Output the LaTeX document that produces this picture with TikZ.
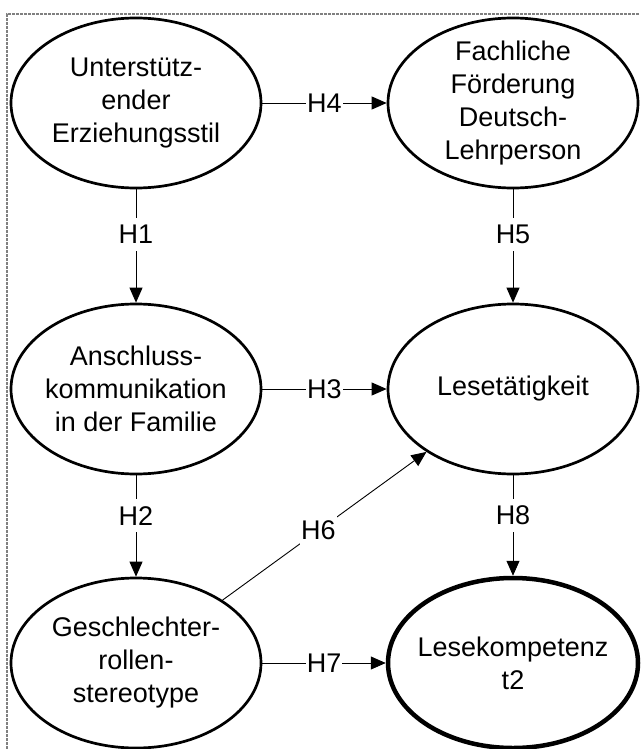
\documentclass[tikz,border=0pt]{standalone}
\usepackage{fontspec}
\setmainfont{Liberation Sans}
\usetikzlibrary{shapes.geometric,arrows.meta}
\newcommand{\hfont}{\fontsize{27pt}{33pt}\selectfont}
\tikzset{
	var/.style 2 args={ellipse,draw,line width=2.7pt,minimum width=250pt,minimum height=170pt,inner sep=0pt,label={[vtext]center:{#2}},name=#1},
	vtext/.style={align=center,font=\hfont,inner sep=0pt},
	hyp/.style={line width=0.9pt,-{Triangle[length=15pt,width=13pt]}},
	hlab/.style={fill=white,font=\hfont,inner xsep=1pt,inner ysep=7pt},
	frame/.style={gray,line width=1.2pt,dash pattern=on 3pt off 1pt}
}

\begin{document}
\begin{tikzpicture}[x=1pt,y=-1pt]
	\useasboundingbox (0,0) rectangle (640,749);
	\draw [frame] (7,749) -- (7,14) -- (640,14);

	\node [var={ue}{Unterstütz-\\ender\\Erziehungsstil}] at (136,103) {};
	\node [var={ff}{Fachliche\\Förderung\\Deutsch-\\Lehrperson}] at (513,103) {};
	\node [var={ak}{Anschluss-\\kommunikation\\in der Familie}] at (136,389) {};
	\node [var={lt}{Lesetätigkeit}] at (513,389) {};
	\node [var={ge}{Geschlechter-\\rollen-\\stereotype}] at (136,663) {};
	\node [var={lk}{Lesekompetenz\\t2},line width=4.5pt] at (513,663) {};

	\draw [hyp] (ue) -- node [hlab,pos=0.4] {H1} (ak);
	\draw [hyp] (ak) -- node [hlab,pos=0.4] {H2} (ge);
	\draw [hyp] (ak) -- node [hlab] {H3} (lt);
	\draw [hyp] (ue) -- node [hlab] {H4} (ff);
	\draw [hyp] (ff) -- node [hlab,pos=0.4] {H5} (lt);
	\draw [hyp] (ge) -- node [hlab,pos=0.47] {H6} (lt);
	\draw [hyp] (ge) -- node [hlab] {H7} (lk);
	\draw [hyp] (lt) -- node [hlab,pos=0.4] {H8} (lk);
\end{tikzpicture}
\end{document}
